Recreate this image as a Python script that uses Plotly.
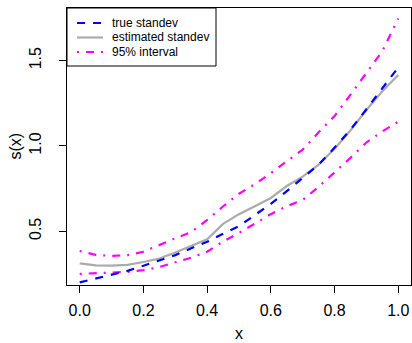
import plotly.graph_objects as go

x = [0.00, 0.05, 0.10, 0.15, 0.20, 0.25, 0.30, 0.35, 0.40, 0.45, 0.50,
     0.55, 0.60, 0.65, 0.70, 0.75, 0.80, 0.85, 0.90, 0.95, 1.00]
true_sd = [0.200, 0.222, 0.243, 0.268, 0.298, 0.330, 0.360, 0.400, 0.438, 0.485, 0.530,
           0.595, 0.660, 0.735, 0.810, 0.890, 0.990, 1.095, 1.215, 1.337, 1.460]
est_sd = [0.312, 0.300, 0.298, 0.303, 0.320, 0.340, 0.375, 0.415, 0.453, 0.543, 0.600,
          0.647, 0.695, 0.765, 0.820, 0.890, 0.983, 1.090, 1.210, 1.320, 1.415]
upper = [0.384, 0.362, 0.355, 0.360, 0.380, 0.420, 0.458, 0.495, 0.566, 0.645, 0.720,
         0.776, 0.840, 0.910, 0.978, 1.080, 1.175, 1.300, 1.430, 1.555, 1.747]
lower = [0.250, 0.254, 0.254, 0.262, 0.272, 0.290, 0.318, 0.345, 0.380, 0.440, 0.490,
         0.545, 0.600, 0.647, 0.683, 0.760, 0.843, 0.930, 1.020, 1.085, 1.142]

x_ticks = [0.0, 0.2, 0.4, 0.6, 0.8, 1.0]
y_ticks = [0.5, 1.0, 1.5]
legend_labels = ["true standev", "estimated standev", "95% interval"]

BLUE = "#0000FF"
GRAY = "#ABABAB"
MAG = "#FF00FF"
FONT = "Liberation Sans, Arial, sans-serif"
LW = 2.2
DASH_BLUE = "8px,8px"
DASH_MAG = "2px,7px,8px,7px"

fig = go.Figure()
fig.add_trace(go.Scatter(x=x, y=est_sd, mode="lines", line=dict(color=GRAY, width=LW), showlegend=False))
fig.add_trace(go.Scatter(x=x, y=upper, mode="lines", line=dict(color=MAG, width=LW, dash=DASH_MAG), showlegend=False))
fig.add_trace(go.Scatter(x=x, y=lower, mode="lines", line=dict(color=MAG, width=LW, dash=DASH_MAG), showlegend=False))
fig.add_trace(go.Scatter(x=x, y=true_sd, mode="lines", line=dict(color=BLUE, width=LW, dash=DASH_BLUE), showlegend=False))

# plot area in pixels
L, R, T, B = 67, 411, 8, 285
W, H = 412, 343

def px(xp):
    return (xp - L) / (R - L)

def py(yp):
    return (B - yp) / (B - T)

shapes = []
# legend box
shapes.append(dict(type="rect", xref="paper", yref="paper", x0=px(67), x1=px(216), y0=py(8), y1=py(66),
                   line=dict(color="black", width=1), fillcolor="white", layer="above"))
rows = [23, 37.5, 52]
styles = [dict(color=BLUE, width=LW, dash=DASH_BLUE), dict(color=GRAY, width=LW), dict(color=MAG, width=LW, dash=DASH_MAG)]
annotations = []
for r, st, lab in zip(rows, styles, legend_labels):
    shapes.append(dict(type="line", xref="paper", yref="paper", x0=px(77), x1=px(103), y0=py(r), y1=py(r),
                       line=st, layer="above"))
    annotations.append(dict(text=lab, xref="paper", yref="paper", x=px(110), y=py(r), xanchor="left",
                            yanchor="middle", showarrow=False, font=dict(size=12, color="black", family=FONT)))

annotations.append(dict(text="x", xref="paper", yref="paper", x=0.5, y=py(333), xanchor="center", yanchor="middle",
                        showarrow=False, font=dict(size=16, color="black", family=FONT)))
annotations.append(dict(text="s(x)", xref="paper", yref="paper", x=px(15), y=0.5, xanchor="center", yanchor="middle",
                        textangle=-90, showarrow=False, font=dict(size=16, color="black", family=FONT)))

fig.update_layout(
    width=W, height=H, autosize=False,
    margin=dict(l=L, r=W - R, t=T, b=H - B, pad=0),
    paper_bgcolor="white", plot_bgcolor="white",
    font=dict(family=FONT, size=16, color="black"),
    shapes=shapes, annotations=annotations,
    showlegend=False,
)
fig.update_xaxes(range=[-0.04, 1.04], tickvals=x_ticks, ticktext=[f"{v:.1f}" for v in x_ticks],
                 ticks="outside", ticklen=7, tickcolor="black", tickwidth=1,
                 showline=True, linecolor="black", linewidth=1, mirror=True,
                 showgrid=False, zeroline=False, tickfont=dict(size=16), ticklabelstandoff=4)
fig.update_yaxes(range=[0.185, 1.808], tickvals=y_ticks, ticktext=[f"{v:.1f}" for v in y_ticks],
                 ticks="outside", ticklen=7, tickcolor="black", tickwidth=1, tickangle=-90,
                 showline=True, linecolor="black", linewidth=1, mirror=True,
                 showgrid=False, zeroline=False, tickfont=dict(size=16), ticklabelstandoff=12)

fig.write_html("out.html")
